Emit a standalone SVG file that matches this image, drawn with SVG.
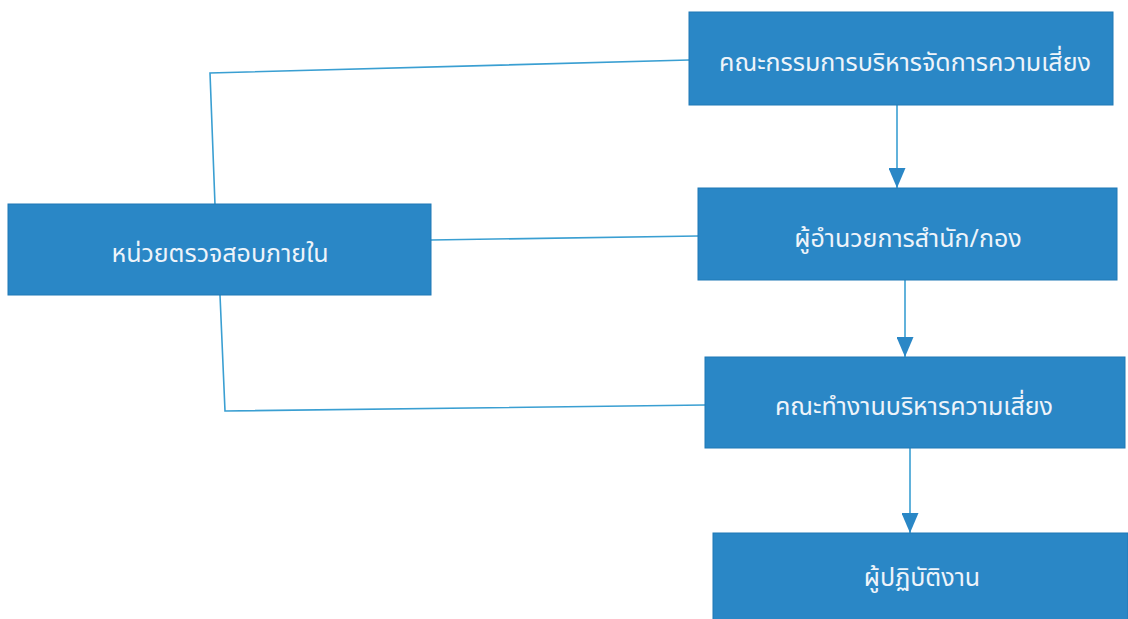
<svg xmlns="http://www.w3.org/2000/svg" width="1128" height="619" viewBox="0 0 1128 619">
<style>
.box{fill:#2a87c6;stroke:#1f78b6;stroke-width:1}
.lbl{font-family:"Noto Sans Thai","Noto Sans",sans-serif;font-size:25px;fill:#eef4fa;text-anchor:middle}
.con{fill:none;stroke:#3a9fd2;stroke-width:1.6}
</style>
<defs>
<marker id="ah" viewBox="0 0 20 17" refX="20" refY="8.5" markerWidth="20" markerHeight="17" markerUnits="userSpaceOnUse" orient="auto">
<path d="M0,0 L20,8.5 L0,17 Z" fill="#2a87c6"/>
</marker>
</defs>
<rect width="1128" height="619" fill="#ffffff"/>
<g id="connectors">
<polyline class="con" points="689,60 210,73 215,205"/>
<line class="con" x1="431" y1="240" x2="698" y2="236"/>
<polyline class="con" points="220,295 225,411 705,405"/>
<line class="con" x1="897" y1="105" x2="897" y2="188" marker-end="url(#ah)"/>
<line class="con" x1="905" y1="280" x2="905" y2="357" marker-end="url(#ah)"/>
<line class="con" x1="910" y1="448" x2="910" y2="533" marker-end="url(#ah)"/>
</g>
<g id="node-committee">
<rect class="box" x="689" y="12" width="424" height="93"/>
<text class="lbl" x="905" y="71">คณะกรรมการบริหารจัดการความเสี่ยง</text>
</g>
<g id="node-director">
<rect class="box" x="698" y="188" width="419" height="92"/>
<text class="lbl" x="908" y="247">ผู้อำนวยการสำนัก/กอง</text>
</g>
<g id="node-workgroup">
<rect class="box" x="705" y="357" width="420" height="91"/>
<text class="lbl" x="914" y="415">คณะทำงานบริหารความเสี่ยง</text>
</g>
<g id="node-staff">
<rect class="box" x="713" y="533" width="415" height="90"/>
<text class="lbl" x="922" y="586">ผู้ปฏิบัติงาน</text>
</g>
<g id="node-audit">
<rect class="box" x="8" y="204" width="423" height="91"/>
<text class="lbl" x="220" y="262">หน่วยตรวจสอบภายใน</text>
</g>
</svg>
